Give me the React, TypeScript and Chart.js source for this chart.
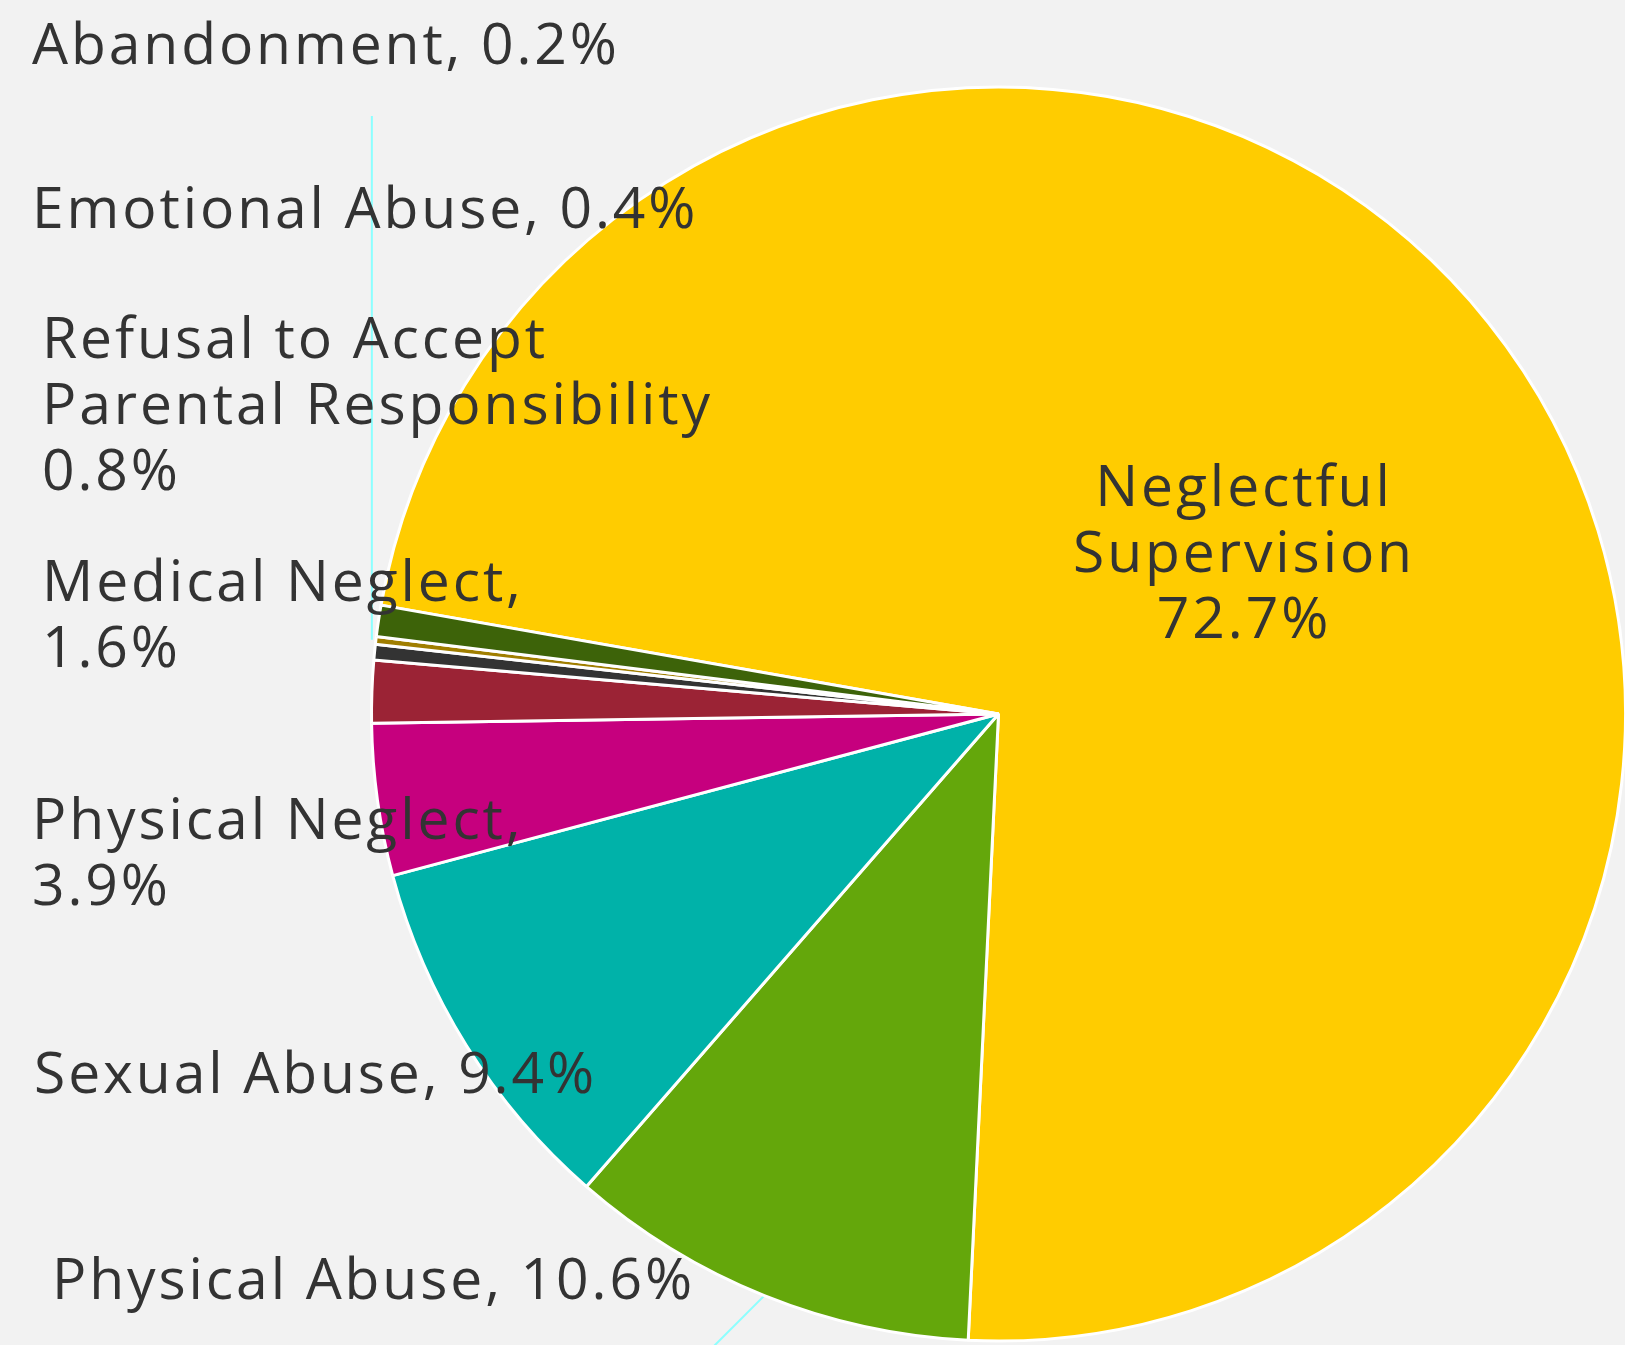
import React, { useEffect, useRef } from "react";
import { Chart, registerables } from "chart.js";

Chart.register(...registerables);

const categories = [
  "Neglectful Supervision",
  "Physical Abuse",
  "Sexual Abuse",
  "Physical Neglect",
  "Medical Neglect",
  "Emotional Abuse",
  "Abandonment",
  "Refusal to Accept Parental Responsibility",
];
const values = [72.7, 10.6, 9.4, 3.9, 1.6, 0.4, 0.2, 0.8];
const colors = [
  "#FFCC00",
  "#64A70B",
  "#00B2A9",
  "#C6007E",
  "#9B2335",
  "#333333",
  "#A07E00",
  "#3D6309",
];
const labelLines = [
  ["Neglectful", "Supervision", "72.7%"],
  ["Physical Abuse, 10.6%"],
  ["Sexual Abuse, 9.4%"],
  ["Physical Neglect,", "3.9%"],
  ["Medical Neglect,", "1.6%"],
  ["Emotional Abuse, 0.4%"],
  ["Abandonment, 0.2%"],
  ["Refusal to Accept", "Parental Responsibility", "0.8%"],
];

const W = 1625;
const H = 1345;
const FONT = '57px "Open Sans", sans-serif';
const LETTER_SPACING = "2.9px";
const TEXT_COLOR = "#333333";
const LINE_H = 66;

// label anchor: [x, first baseline, align]
const labelPos: [number, number, CanvasTextAlign][] = [
  [1244, 506, "center"],
  [52, 1299, "left"],
  [34, 1093, "left"],
  [32, 839, "left"],
  [42, 601, "left"],
  [32, 228, "left"],
  [32, 64, "left"],
  [42, 358, "left"],
];

const bgPlugin = {
  id: "bg",
  beforeDraw(chart: any) {
    const ctx = chart.ctx;
    ctx.save();
    ctx.fillStyle = "#F2F2F2";
    ctx.fillRect(0, 0, chart.width, chart.height);
    ctx.restore();
  },
};

const leaderPlugin = {
  id: "leaders",
  beforeDatasetsDraw(chart: any) {
    const meta = chart.getDatasetMeta(0);
    const ctx = chart.ctx;
    ctx.save();
    ctx.strokeStyle = "#8CFFFF";
    ctx.lineWidth = 2;
    // Abandonment: vertical leader up to its label
    const a = meta.data[6];
    if (a) {
      const mid = (a.startAngle + a.endAngle) / 2;
      const r = a.outerRadius + 4;
      const px = a.x + Math.cos(mid) * r;
      const py = a.y + Math.sin(mid) * r;
      ctx.beginPath();
      ctx.moveTo(px, py);
      ctx.lineTo(px, 116);
      ctx.stroke();
    }
    // Physical Abuse: diagonal leader down-left
    const b = meta.data[1];
    if (b) {
      const mid = (b.startAngle + b.endAngle) / 2;
      const px = b.x + Math.cos(mid) * b.outerRadius;
      const py = b.y + Math.sin(mid) * b.outerRadius;
      const len = chart.height - py + 5;
      ctx.beginPath();
      ctx.moveTo(px, py);
      ctx.lineTo(px - len, py + len);
      ctx.stroke();
    }
    ctx.restore();
  },
};

const labelPlugin = {
  id: "labels",
  afterDatasetsDraw(chart: any) {
    const ctx = chart.ctx;
    ctx.save();
    ctx.font = FONT;
    (ctx as any).letterSpacing = LETTER_SPACING;
    ctx.fillStyle = TEXT_COLOR;
    ctx.textBaseline = "alphabetic";
    labelLines.forEach((lines, i) => {
      const [x, y, align] = labelPos[i];
      ctx.textAlign = align;
      lines.forEach((t, j) => ctx.fillText(t, x, y + j * LINE_H));
    });
    ctx.restore();
  },
};

export default function App() {
  const ref = useRef<HTMLCanvasElement | null>(null);
  useEffect(() => {
    document.body.style.margin = "0";
    const canvas = ref.current!;
    const chart = new Chart(canvas, {
      type: "pie",
      data: {
        labels: categories,
        datasets: [
          {
            data: values,
            backgroundColor: colors,
            borderColor: "#FFFFFF",
            borderWidth: 3,
          },
        ],
      },
      options: {
        responsive: false,
        animation: false,
        devicePixelRatio: 1,
        rotation: -80,
        radius: 627,
        layout: { padding: { left: 372, right: 0, top: 87, bottom: 4 } },
        plugins: {
          legend: { display: false },
          tooltip: { enabled: false },
        },
        events: [],
      },
      plugins: [bgPlugin, leaderPlugin, labelPlugin],
    });
    return () => chart.destroy();
  }, []);
  return (
    <div style={{ position: "absolute", left: 0, top: 0, width: W, height: H, background: "#F2F2F2" }}>
      <canvas ref={ref} width={W} height={H} style={{ display: "block", width: W, height: H }} />
    </div>
  );
}
